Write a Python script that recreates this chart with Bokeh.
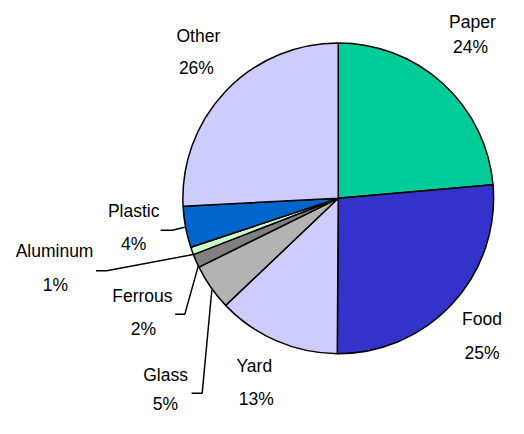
import math
from bokeh.plotting import figure
from bokeh.models import Range1d, ColumnDataSource
from bokeh.core.properties import value
from bokeh.embed import file_html
from bokeh.resources import INLINE

# ---- data ----
categories = ["Paper", "Food", "Yard", "Glass", "Ferrous", "Aluminum", "Plastic", "Other"]
shares = [23.6, 26.5, 12.8, 4.8, 1.4, 0.8, 4.3, 25.8]
pct_labels = ["24%", "25%", "13%", "5%", "2%", "1%", "4%", "26%"]
colors = ["#00CC99", "#3333CC", "#CCCCFF", "#B3B3B3", "#808080", "#CCFFCC", "#0066CC", "#CCCCFF"]

W, H = 508, 418
S = 0.965  # layout scale from the 524x434 reference frame


def X(px):
    return px * S


def Y(py):
    return H - py * S


p = figure(width=W, height=H, output_backend="svg", toolbar_location=None,
           x_range=Range1d(0, W), y_range=Range1d(0, H),
           x_axis_location=None, y_axis_location=None, min_border=0)
p.outline_line_color = None
p.grid.visible = False
p.background_fill_color = "white"
p.border_fill_color = "white"

# wedges
total = sum(shares)
starts, ends = [], []
cum = 0.0
for v in shares:
    starts.append(math.pi / 2 - 2 * math.pi * cum / total)
    cum += v
    ends.append(math.pi / 2 - 2 * math.pi * cum / total)

src = ColumnDataSource(dict(start=starts, end=ends, color=colors, cat=categories))
cx, cy, r = X(350), Y(205), 161 * S
p.wedge(x=cx, y=cy, radius=r, start_angle="start", end_angle="end",
        direction="clock", fill_color="color", line_color="black",
        line_width=1.5, source=src)

# label positions (reference pixel coords) - layout
name_pos = {
    "Paper": (489, 22), "Food": (499, 330), "Yard": (263, 379), "Glass": (171, 388),
    "Ferrous": (147, 306), "Aluminum": (56, 260), "Plastic": (138, 218), "Other": (205, 37),
}
pct_pos = {
    "Paper": (487, 48), "Food": (499, 365), "Yard": (265, 413), "Glass": (171, 418),
    "Ferrous": (148, 340), "Aluminum": (57, 295), "Plastic": (138, 252), "Other": (203, 70),
}

tx, ty, tt = [], [], []
for c, pl in zip(categories, pct_labels):
    nx, ny = name_pos[c]
    px_, py_ = pct_pos[c]
    tx += [X(nx), X(px_)]
    ty += [Y(ny), Y(py_)]
    tt += [c, pl]

p.text(x=tx, y=ty, text=tt, text_align="center", text_baseline="middle",
       text_font=value("Liberation Sans"), text_font_size="17.5px", text_color="black")

# leader lines
leaders = {
    "Plastic": [(166, 238), (178, 238), (191, 235)],
    "Aluminum": [(99, 280), (110, 280), (201, 263)],
    "Ferrous": [(181, 325), (191, 325), (205, 275)],
    "Glass": [(198, 407), (209, 407), (219, 300)],
}
xs = [[X(a) for a, b in pts] for pts in leaders.values()]
ys = [[Y(b) for a, b in pts] for pts in leaders.values()]
p.multi_line(xs=xs, ys=ys, line_color="black", line_width=1.5)

open("out.html", "w").write(file_html(p, INLINE))
